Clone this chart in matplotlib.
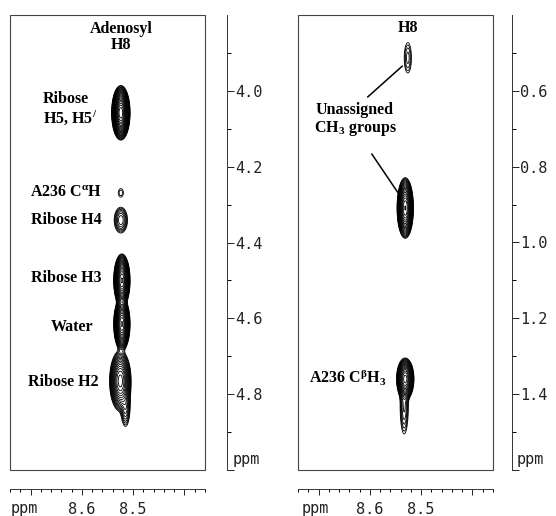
import numpy as np
import matplotlib.pyplot as plt
from matplotlib.patches import Rectangle
from matplotlib.ticker import MultipleLocator, FixedLocator

plt.rcParams["mathtext.fontset"] = "custom"
plt.rcParams["mathtext.rm"] = "Liberation Serif:bold"
plt.rcParams["mathtext.it"] = "Liberation Serif:bold"
plt.rcParams["mathtext.bf"] = "Liberation Serif:bold"

# cross peaks: x ppm, y ppm, half-width x, half-width y (at lowest contour), height
left_x0 = [8.524, 8.524, 8.524, 8.522, 8.522, 8.525, 8.515]
left_y0 = [4.058, 4.269, 4.341, 4.50, 4.615, 4.765, 4.83]
left_hx = [0.018, 0.005, 0.013, 0.016, 0.016, 0.021, 0.009]
left_hy = [0.072, 0.011, 0.034, 0.07, 0.07, 0.08, 0.055]
left_amp = [400, 1.6, 6, 200, 200, 60, 6]

right_x0 = [8.526, 8.531, 8.531, 8.533]
right_y0 = [0.513, 0.909, 1.36, 1.43]
right_hx = [0.007, 0.016, 0.017, 0.008]
right_hy = [0.04, 0.08, 0.055, 0.075]
right_amp = [2.5, 150, 100, 4]

left_labels = ["Adenosyl\nH8", "Ribose\nH5, H5$^{/}$", r"A236 C$^{\alpha}$H",
               "Ribose H4", "Ribose H3", "Water", "Ribose H2"]
right_labels = ["H8", "Unassigned\nCH$_3$ groups", r"A236 C$^{\beta}$H$_3$"]

x_range = (8.74, 8.36)
left_yrange = (5.0, 3.8)
right_yrange = (1.6, 0.4)
left_yticks = [4.0, 4.2, 4.4, 4.6, 4.8, 5.0]
right_yticks = [0.6, 0.8, 1.0, 1.2, 1.4, 1.6]
x_ticks = [8.7, 8.6, 8.5, 8.4]

mono = "DejaVu Sans Mono"
serif = "Liberation Serif"


def field(xx, yy, x0, y0, hx, hy, amp):
    z = np.zeros_like(xx)
    for a, b, wx, wy, h in zip(x0, y0, hx, hy, amp):
        k = np.sqrt(2 * np.log(max(h, 1.05)))
        sx, sy = wx / k, wy / k
        z += h * np.exp(-((xx - a) ** 2 / (2 * sx ** 2) + (yy - b) ** 2 / (2 * sy ** 2)))
    return z


def panel(ax, peaks, yrange, yticks, spine_out):
    x = np.linspace(x_range[1], x_range[0], 400)
    y = np.linspace(yrange[1], yrange[0], 900)
    xx, yy = np.meshgrid(x, y)
    z = field(xx, yy, *peaks)
    levels = 1.3 ** np.arange(0, 30)
    ax.contour(xx, yy, z, levels=levels, colors="black", linewidths=0.6)

    ax.set_xlim(*x_range)
    ax.set_ylim(*yrange)
    ax.add_patch(Rectangle((0, 0), 1, 1, transform=ax.transAxes, fill=False,
                           lw=0.8, edgecolor="#444444", clip_on=False))
    for s in ["left", "top"]:
        ax.spines[s].set_visible(False)
    ax.spines["right"].set_position(("outward", spine_out))
    ax.spines["bottom"].set_position(("outward", 13.7))
    for s in ["right", "bottom"]:
        ax.spines[s].set_linewidth(0.7)
        ax.spines[s].set_color("#333333")

    ax.yaxis.tick_right()
    ax.yaxis.set_major_locator(FixedLocator(yticks))
    ax.yaxis.set_minor_locator(FixedLocator([t - 0.1 for t in yticks]))
    ax.set_yticklabels([f"{t:.1f}" for t in yticks[:-1]] + [""])
    ax.tick_params(axis="y", which="major", length=5, width=0.7, pad=1,
                   labelsize=11, colors="#222222")
    ax.tick_params(axis="y", which="minor", length=3, width=0.7)

    ax.xaxis.set_major_locator(FixedLocator(x_ticks))
    ax.xaxis.set_minor_locator(MultipleLocator(0.02))
    ax.set_xticklabels(["", "8.6", "8.5", ""])
    ax.tick_params(axis="x", which="major", length=4.5, width=0.7, pad=5,
                   labelsize=11, colors="#222222")
    ax.tick_params(axis="x", which="minor", length=2.2, width=0.7)
    for lab in ax.get_xticklabels() + ax.get_yticklabels():
        lab.set_family(mono)

    ax.text(0.072 if spine_out > 14 else 0.087, -0.085, "ppm", transform=ax.transAxes,
            ha="center", va="center", fontsize=11, family=mono, color="#222222")
    ax.text(1.14 if spine_out > 14 else 1.123, 0.022, "ppm", transform=ax.transAxes,
            ha="left", va="center", fontsize=11, family=mono, color="#222222")


fig = plt.figure(figsize=(5.56, 5.16), dpi=100)
ax1 = fig.add_axes([10 / 556, 46 / 516, 195 / 556, 455 / 516])
ax2 = fig.add_axes([298 / 556, 46 / 516, 195 / 556, 455 / 516])

panel(ax1, (left_x0, left_y0, left_hx, left_hy, left_amp), left_yrange, left_yticks, 15.8)
panel(ax2, (right_x0, right_y0, right_hx, right_hy, right_amp), right_yrange, right_yticks, 13.7)

tkw = dict(family=serif, weight="bold", fontsize=11.5, va="center")
ax1.text(8.524, 3.858, left_labels[0], ha="center", linespacing=1.0, **tkw)
ax1.text(8.676, 4.048, left_labels[1], ha="left", linespacing=1.1, **tkw)
ax1.text(8.631, 4.269, left_labels[2], ha="center", **tkw)
ax1.text(8.631, 4.341, left_labels[3], ha="center", **tkw)
ax1.text(8.631, 4.494, left_labels[4], ha="center", **tkw)
ax1.text(8.619, 4.623, left_labels[5], ha="center", **tkw)
ax1.text(8.637, 4.768, left_labels[6], ha="center", **tkw)

ax2.text(8.526, 0.434, right_labels[0], ha="center", **tkw)
ax2.text(8.629, 0.677, right_labels[1], ha="center", linespacing=1.1, **tkw)
ax2.text(8.643, 1.357, right_labels[2], ha="center", **tkw)
ax2.plot([8.604, 8.537], [0.616, 0.535], color="black", lw=1.1)
ax2.plot([8.596, 8.545], [0.767, 0.869], color="black", lw=1.1)

fig.savefig("out.png", dpi=100)
